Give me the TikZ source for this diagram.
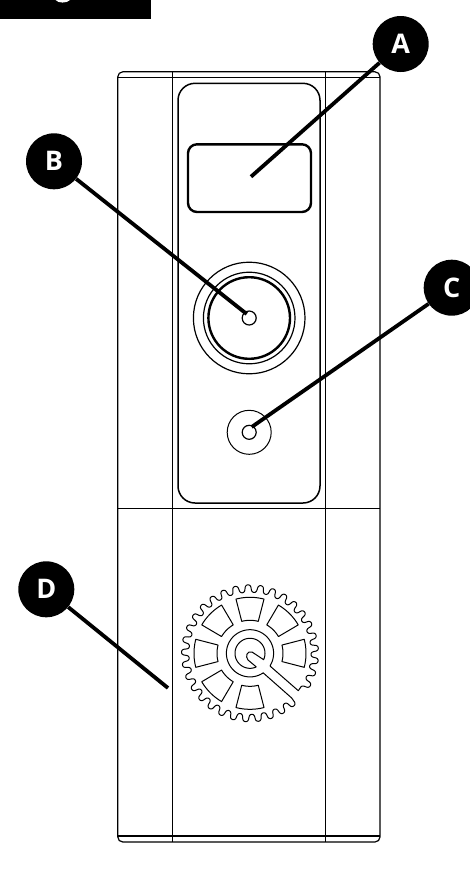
\documentclass[tikz,border=0pt]{standalone}
\usepackage{fontspec}
\setmainfont{Open Sans}
\pgfdeclarelayer{base}
\pgfdeclarelayer{lead}
\pgfsetlayers{base,lead,main}
\tikzset{
  callout/.style={circle,fill=black,draw=none,text=white,minimum size=56pt,inner sep=0pt,font=\fontsize{27}{27}\selectfont\bfseries},
  leader/.style={line width=3.8pt,black},
  thinline/.style={line width=1.2pt,black,line join=round},
  gearline/.style={line width=1pt,black,line join=round},
  midline/.style={line width=1.5pt,black},
  heavyline/.style={line width=2.4pt,black},
  ringshape/.style={circle,draw=black,fill=none,inner sep=0pt},
}
\begin{document}
\begin{tikzpicture}[x=1pt,y=-1pt]
\useasboundingbox (0,0) rectangle (469,895);
\begin{pgfonlayer}{base}
\fill[white] (0,0) rectangle (469,895);
% title bar
\fill[black] (0,0) rectangle (151,18.5);
\fill[white] (55.5,0) .. controls (58,3.4) and (67,3.4) .. (70,0) -- cycle;
% body
\draw[thinline,rounded corners=5pt] (117.8,71.8) rectangle (380,842);
\draw[thinline] (117.8,77.8) -- (380,77.8);
\draw[thinline] (117.8,836) -- (380,836);
\draw[thinline] (117.8,508.3) -- (380,508.3);
\draw[thinline] (172.7,71.8) -- (172.7,842);
\draw[thinline] (325.2,71.8) -- (325.2,842);
% panel and screen
\draw[midline,rounded corners=17pt] (178,83.3) rectangle (320,503);
\draw[heavyline,rounded corners=9pt] (188,144.3) rectangle (311,212);
% button
\coordinate (btn) at (249.2,318);
\node[ringshape,line width=1.2pt,minimum size=111.6pt] (btnA) at (btn) {};
\node[ringshape,line width=1.2pt,minimum size=91.6pt] (btnB) at (btn) {};
\node[ringshape,line width=2.4pt,minimum size=81.6pt] (btnC) at (btn) {};
\node[ringshape,line width=1.2pt,minimum size=14pt] (btnD) at (btn) {};
% small port
\coordinate (prt) at (249.2,432.3);
\node[ringshape,line width=1pt,minimum size=44pt] (prtA) at (prt) {};
\node[ringshape,line width=1.2pt,minimum size=14pt] (prtB) at (prt) {};
% gear outline with slot
\draw[gearline]
  plot[domain=1730:13140,samples=800,variable=\t]
    ({250+(64.75+3.75*cos(\t))*cos((\t-146+40*sin(\t)*cos(\t))/33)},{653.3+(64.75+3.75*cos(\t))*sin((\t-146+40*sin(\t)*cos(\t))/33)})
  -- (298.3,690.7) -- (270,666)
  plot[domain=32:-304,samples=160,variable=\t] ({250+23.6*cos(\t)},{653.3+23.6*sin(\t)})
  -- (291.7,698) -- (294.5,702);
% hub
\draw[gearline]
  plot[domain=65:385,samples=120,variable=\t] ({250+15*cos(\t)},{653.3+15*sin(\t)})
  -- (252,652) .. controls (247,650.5) and (245,656.5) .. (248,660) -- (256.3,666.9);
% windows
\foreach \a in {-90,-45,0,90,135,180,225}{
  \draw[gearline]
    plot[domain=\a-14.5:\a+14.5,samples=20,variable=\t] ({250+56*cos(\t)},{653.3+56*sin(\t)})
    -- plot[domain=\a+14.5:\a-14.5,samples=20,variable=\t] ({250+33*cos(\t)},{653.3+33*sin(\t)})
    -- cycle;
}
\end{pgfonlayer}
% callouts
\coordinate (endA) at (251,176.7);
\coordinate (endB) at (246.7,314);
\coordinate (endC) at (251.7,427);
\coordinate (endD) at (168,688);
\node[callout] (A) at (400.7,44) {A};
\node[callout] (B) at (54,161.3) {B};
\node[callout] (C) at (451.7,287.7) {C};
\node[callout] (D) at (46.3,589.3) {D};
\begin{pgfonlayer}{lead}
\draw[leader] (A) -- (endA);
\draw[leader] (B) -- (endB);
\draw[leader] (C) -- (endC);
\draw[leader] (D) -- (endD);
\end{pgfonlayer}
\end{tikzpicture}
\end{document}
